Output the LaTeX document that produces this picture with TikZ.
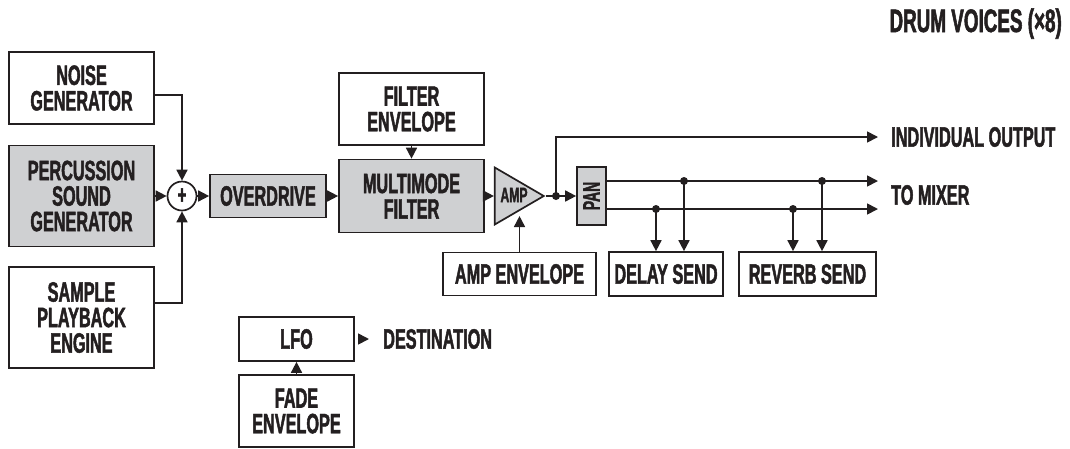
\documentclass[tikz,border=0pt]{standalone}
\usepackage{fontspec}
\usetikzlibrary{positioning}
\usetikzlibrary{math}
\usetikzlibrary{arrows.meta}
\usetikzlibrary{shapes.geometric}
\newfontfamily\drumfont{Liberation Sans}[FakeStretch=0.58,FakeBold=1.6]
\definecolor{ink}{RGB}{35,31,32}
\definecolor{panel}{RGB}{207,208,210}
\newcommand{\lblfont}{\drumfont\bfseries\fontsize{28}{25.5}\selectfont}
\newcommand{\smlfont}{\drumfont\bfseries\fontsize{21}{21}\selectfont}

\begin{document}
\begin{tikzpicture}[x=1pt,y=-1pt,
	blk/.style={draw=ink,line width=1.7pt,inner sep=0pt,align=center,font=\lblfont,text=ink},
	dark/.style={blk,fill=panel},
	tag/.style={inner sep=0pt,font=\lblfont,text=ink,anchor=west},
	dot/.style={circle,fill=ink,inner sep=0pt,minimum size=8pt},
	sig/.style={draw=ink,line width=1.7pt,-{Triangle[length=11pt,width=11pt]}},
	wire/.style={draw=ink,line width=1.7pt}]
	\useasboundingbox (0,0) rectangle (1070,448);
	\tikzmath{\lx=81.5; \my=196; \ox=891; \ua=181; \ub=209; \sy=274;}
	\node (title) at (1062,32)[tag,anchor=base east,font=\drumfont\bfseries\fontsize{32.5}{32}\selectfont]{DRUM VOICES (×8)};
	\node (noise) at (\lx,88)[blk,minimum width=145pt,minimum height=72pt]{NOISE\\GENERATOR};
	\node (perc) at (\lx,\my)[dark,minimum width=145pt,minimum height=101pt]{PERCUSSION\\SOUND\\GENERATOR};
	\node (sample) at (\lx,317.5)[blk,minimum width=145pt,minimum height=101pt]{SAMPLE\\PLAYBACK\\ENGINE};
	\node (sum) at (182,\my)[blk,circle,minimum size=29pt,font=\drumfont\bfseries\fontsize{26}{26}\selectfont]{+};
	\node (drive) at (268,\my)[dark,minimum width=116pt,minimum height=43pt]{OVERDRIVE};
	\node (fenv) at (411.5,109)[blk,minimum width=145pt,minimum height=72pt]{FILTER\\ENVELOPE};
	\node (mmf) at (411.5,\my)[dark,minimum width=145pt,minimum height=73pt]{MULTIMODE\\FILTER};
	\node (amp) at (546,\my)[draw=ink,line width=1.7pt,fill=panel,shape=isosceles triangle,isosceles triangle stretches,
		minimum width=57pt,minimum height=49pt,inner sep=0pt,anchor=apex]{};
	\node (amptxt) at (514,195)[tag,anchor=center,font=\smlfont]{AMP};
	\node (j0) at (556,\my)[dot]{};
	\node (pan) at (591.5,\my)[dark,minimum width=29pt,minimum height=58pt,font=\drumfont\bfseries\fontsize{24}{24}\selectfont]{\rotatebox{90}{PAN}};
	\node (ampenv) at (519.5,\sy)[blk,minimum width=153pt,minimum height=43pt]{AMP ENVELOPE};
	\node (delay) at (666,\sy)[blk,minimum width=114pt,minimum height=44pt]{DELAY SEND};
	\node (reverb) at (807.5,\sy)[blk,minimum width=137pt,minimum height=44pt]{REVERB SEND};
	\node (indiv) at (\ox,137)[tag]{INDIVIDUAL OUTPUT};
	\node (tomix) at (\ox,195)[tag]{TO MIXER};
	\node (lfo) at (296.5,339)[blk,minimum width=115pt,minimum height=44pt]{LFO};
	\node (fade) at (296.5,411)[blk,minimum width=115pt,minimum height=72pt]{FADE\\ENVELOPE};
	\node (dest) at (383,339)[tag]{DESTINATION};
	\coordinate (mixa) at (878,\ua);
	\coordinate (mixb) at (878,\ub);
	\node (da) at (684,\ua)[dot]{};
	\node (db) at (656,\ub)[dot]{};
	\node (ra) at (822,\ua)[dot]{};
	\node (rb) at (793,\ub)[dot]{};
	% sources into the mixer
	\draw[sig] ([yshift=-7pt]noise.east) -| (sum.north);
	\draw[sig] (perc.east) -- (sum.west);
	\draw[sig] ([yshift=14.5pt]sample.east) -| (sum.south);
	\draw[sig] (sum.east) -- (drive.west);
	\draw[sig] (drive.east) -- (mmf.west);
	\draw[sig] (fenv.south) -- (mmf.north);
	\draw[sig] (mmf.east) -- (amp.west);
	\draw[wire] (amp.apex) -- (j0.center);
	\draw[sig] (j0.center) -- (pan.west);
	\draw[sig,shorten >=13pt] (j0.center) |- (indiv.west);
	\draw[sig] (ampenv.north) -- (ampenv.north |- amp.south);
	% outputs and sends
	\draw[sig] (pan.east |- mixa) -- (mixa);
	\draw[sig] (pan.east |- mixb) -- (mixb);
	\draw[sig] (db.center) -- (db |- delay.north);
	\draw[sig] (da.center) -- (da |- delay.north);
	\draw[sig] (rb.center) -- (rb |- reverb.north);
	\draw[sig] (ra.center) -- (ra |- reverb.north);
	\draw[sig] (fade.north) -- (lfo.south);
	\draw[sig] ([xshift=3pt]lfo.east) -- ([xshift=-14pt]dest.west);
\end{tikzpicture}
\end{document}
